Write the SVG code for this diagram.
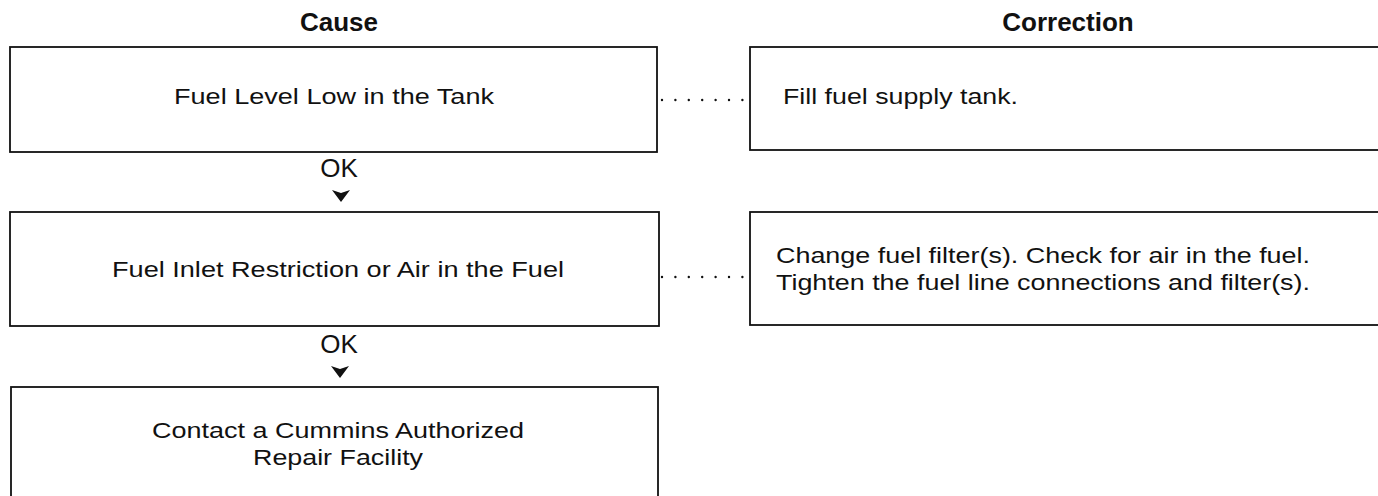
<svg xmlns="http://www.w3.org/2000/svg" width="1378" height="496" viewBox="0 0 1378 496">
<style>
.box{fill:#fff;stroke:#111;stroke-width:1.8}
.t{font-family:"Liberation Sans",Arial,sans-serif;font-size:21.5px;fill:#111}
.ok{font-family:"Liberation Sans",Arial,sans-serif;font-size:26px;fill:#111}
.h{font-family:"Liberation Sans",Arial,sans-serif;font-size:26px;font-weight:bold;fill:#111}
.dot{stroke:#111;stroke-width:2.4;stroke-linecap:round;stroke-dasharray:0 13.4;fill:none}
.arr{fill:#111}
</style>
<rect width="1378" height="496" fill="#fff"/>
<text class="h" x="339" y="31" text-anchor="middle">Cause</text>
<text class="h" x="1068" y="31" text-anchor="middle">Correction</text>
<g id="cause1">
<rect class="box" x="10" y="47" width="647" height="105"/>
<text class="t" x="174" y="104" textLength="320" lengthAdjust="spacingAndGlyphs">Fuel Level Low in the Tank</text>
</g>
<g id="corr1">
<rect class="box" x="750" y="47" width="640" height="103"/>
<text class="t" x="783" y="104" textLength="235" lengthAdjust="spacingAndGlyphs">Fill fuel supply tank.</text>
</g>
<g id="cause2">
<rect class="box" x="10" y="212" width="649" height="114"/>
<text class="t" x="112" y="277" textLength="452" lengthAdjust="spacingAndGlyphs">Fuel Inlet Restriction or Air in the Fuel</text>
</g>
<g id="corr2">
<rect class="box" x="750" y="212" width="640" height="113"/>
<text class="t" x="776" y="263" textLength="534" lengthAdjust="spacingAndGlyphs">Change fuel filter(s). Check for air in the fuel.</text>
<text class="t" x="776" y="290" textLength="534" lengthAdjust="spacingAndGlyphs">Tighten the fuel line connections and filter(s).</text>
</g>
<g id="cause3">
<rect class="box" x="11" y="387" width="647" height="120"/>
<text class="t" x="152" y="438" textLength="372" lengthAdjust="spacingAndGlyphs">Contact a Cummins Authorized</text>
<text class="t" x="253" y="465" textLength="170" lengthAdjust="spacingAndGlyphs">Repair Facility</text>
</g>
<g id="connectors">
<path class="dot" d="M662,100 H745"/>
<path class="dot" d="M662,277 H745"/>
<text class="ok" x="339" y="177" text-anchor="middle">OK</text>
<path class="arr" d="M332,190 L341,193 L350,190 L341,202 Z"/>
<text class="ok" x="339" y="353" text-anchor="middle">OK</text>
<path class="arr" d="M331,366 L340,369 L349,366 L340,378 Z"/>
</g>
</svg>
